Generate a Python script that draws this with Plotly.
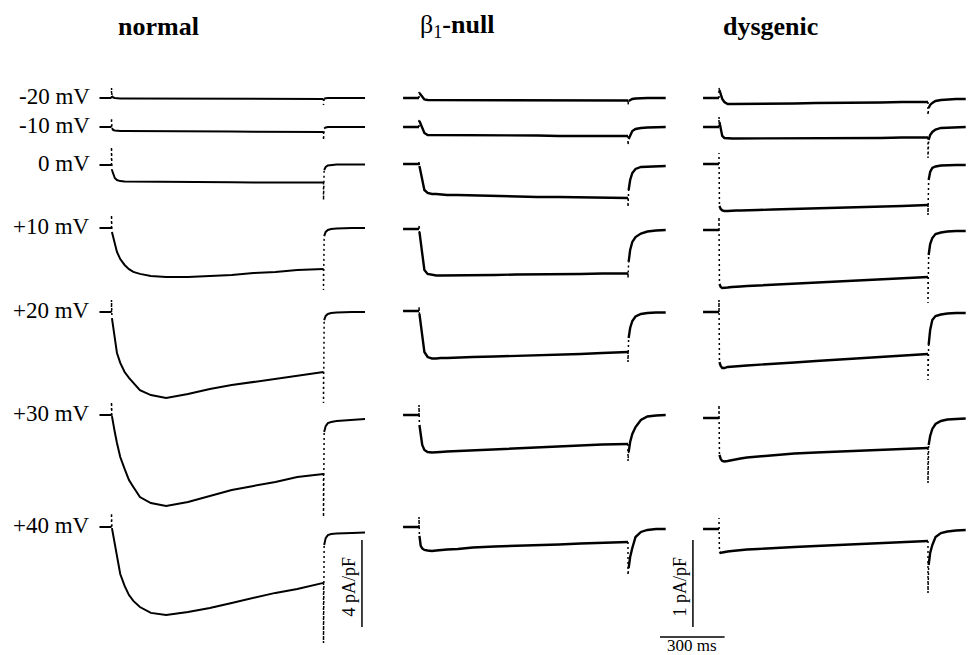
import plotly.graph_objects as go

W, H = 969, 655

# ---------------- data (currents in pA/pF, times in ms) ----------------
VOLTAGES = ["-20 mV", "-10 mV", "0 mV", "+10 mV", "+20 mV", "+30 mV", "+40 mV"]
GROUPS = ["<b>normal</b>", "β<sub>1</sub><b>-null</b>", "<b>dysgenic</b>"]

T_PRE_NORMAL = [-55, 0]
T_PRE = [-74, 0]
PRE_LEVEL = [0, 0]
T_BODY = [2, 8, 15, 25, 40, 60, 80, 100, 130, 180, 250, 350, 450, 550, 650, 750, 850, 970]
T_POST_NORMAL = [973, 980, 990, 1005, 1030, 1060, 1100, 1160]
T_POST = [973, 980, 990, 1005, 1030, 1060, 1100, 1145]

NORMAL_BODY = [
    [0.10, 0.02, 0.0, -0.02, -0.02, -0.02, -0.02, -0.02, -0.02, -0.02, -0.02, -0.03, -0.03, -0.03, -0.04, -0.04, -0.05, -0.05],
    [-0.05, -0.14, -0.16, -0.18, -0.18, -0.18, -0.18, -0.18, -0.20, -0.20, -0.20, -0.21, -0.21, -0.21, -0.22, -0.22, -0.23, -0.23],
    [-0.23, -0.46, -0.60, -0.69, -0.74, -0.76, -0.76, -0.78, -0.78, -0.78, -0.78, -0.78, -0.79, -0.79, -0.80, -0.80, -0.80, -0.80],
    [-0.18, -0.46, -0.78, -1.10, -1.43, -1.70, -1.89, -2.02, -2.11, -2.21, -2.25, -2.25, -2.21, -2.16, -2.07, -2.02, -1.93, -1.89],
    [-0.28, -0.69, -1.38, -1.89, -2.34, -2.76, -3.03, -3.26, -3.59, -3.82, -3.95, -3.77, -3.54, -3.36, -3.22, -3.08, -2.92, -2.76],
    [-0.05, -0.32, -0.78, -1.29, -1.93, -2.48, -2.99, -3.31, -3.77, -4.05, -4.18, -4.00, -3.72, -3.45, -3.26, -3.08, -2.85, -2.71],
    [-0.05, -0.37, -0.87, -1.43, -2.16, -2.71, -3.13, -3.40, -3.68, -3.95, -4.05, -3.91, -3.72, -3.49, -3.26, -3.03, -2.85, -2.57],
]
NORMAL_POST = [
    [-0.02, 0, 0, 0, 0, 0, 0, 0],
    [-0.07, -0.02, 0, 0, 0, 0, 0, 0],
    [-0.23, -0.09, -0.02, 0, 0.02, 0.02, 0.02, 0.02],
    [-0.37, -0.18, -0.09, -0.05, -0.02, 0, 0, 0],
    [-0.37, -0.18, -0.09, -0.05, -0.02, 0, 0, 0],
    [-0.78, -0.51, -0.37, -0.32, -0.28, -0.25, -0.23, -0.18],
    [-0.83, -0.51, -0.37, -0.32, -0.30, -0.28, -0.28, -0.25],
]
NORMAL_SPIKE = [0.46, 0.41, 0.83, 0.60, 0.55, 0.60, 0.64]
NORMAL_DIP = [-0.32, -0.60, -1.61, -2.85, -4.18, -4.69, -5.33]

BETA_BODY = [
    [0.057, 0.034, 0.006, -0.017, -0.023, -0.023, -0.023, -0.023, -0.023, -0.023, -0.023, -0.023, -0.023, -0.023, -0.023, -0.029, -0.029, -0.029],
    [0.069, 0.034, -0.023, -0.069, -0.092, -0.092, -0.098, -0.098, -0.098, -0.098, -0.098, -0.098, -0.098, -0.098, -0.103, -0.103, -0.103, -0.103],
    [-0.023, -0.092, -0.207, -0.299, -0.333, -0.345, -0.345, -0.351, -0.356, -0.356, -0.362, -0.368, -0.374, -0.379, -0.379, -0.385, -0.391, -0.391],
    [-0.034, -0.161, -0.322, -0.471, -0.517, -0.529, -0.534, -0.534, -0.534, -0.534, -0.529, -0.529, -0.523, -0.523, -0.517, -0.517, -0.511, -0.511],
    [-0.034, -0.149, -0.299, -0.471, -0.529, -0.546, -0.546, -0.540, -0.540, -0.534, -0.529, -0.523, -0.517, -0.506, -0.500, -0.494, -0.483, -0.471],
    [-0.115, -0.230, -0.345, -0.402, -0.425, -0.431, -0.431, -0.425, -0.420, -0.414, -0.408, -0.397, -0.385, -0.374, -0.362, -0.351, -0.339, -0.333],
    [-0.103, -0.218, -0.247, -0.264, -0.270, -0.276, -0.270, -0.264, -0.259, -0.253, -0.236, -0.224, -0.218, -0.207, -0.201, -0.190, -0.184, -0.172],
]
BETA_POST = [
    [-0.034, -0.023, -0.011, -0.006, 0, 0, 0, 0],
    [-0.138, -0.092, -0.046, -0.023, -0.011, -0.006, 0, 0],
    [-0.299, -0.184, -0.103, -0.057, -0.034, -0.029, -0.023, -0.023],
    [-0.379, -0.241, -0.149, -0.092, -0.052, -0.029, -0.017, -0.011],
    [-0.310, -0.195, -0.115, -0.063, -0.034, -0.023, -0.017, -0.017],
    [-0.425, -0.310, -0.218, -0.138, -0.057, -0.017, -0.006, 0],
    [-0.471, -0.345, -0.241, -0.115, -0.057, -0.034, -0.023, -0.023],
]
BETA_SPIKE = [0.069, 0.080, 0.034, 0.046, 0.050, 0.115, 0.115]
BETA_DIP = [-0.080, -0.207, -0.494, -0.563, -0.586, -0.529, -0.552]

DYS_BODY = [
    [0.092, 0.034, -0.011, -0.046, -0.069, -0.069, -0.069, -0.069, -0.069, -0.069, -0.063, -0.063, -0.057, -0.057, -0.052, -0.052, -0.046, -0.046],
    [0.057, -0.034, -0.103, -0.126, -0.132, -0.132, -0.132, -0.132, -0.132, -0.132, -0.132, -0.132, -0.132, -0.126, -0.126, -0.126, -0.121, -0.121],
    [-0.483, -0.517, -0.534, -0.540, -0.540, -0.534, -0.534, -0.534, -0.529, -0.529, -0.523, -0.517, -0.511, -0.506, -0.494, -0.489, -0.483, -0.471],
    [-0.621, -0.655, -0.667, -0.667, -0.661, -0.655, -0.655, -0.649, -0.644, -0.638, -0.632, -0.615, -0.603, -0.592, -0.580, -0.569, -0.557, -0.540],
    [-0.575, -0.621, -0.644, -0.644, -0.632, -0.626, -0.621, -0.621, -0.615, -0.609, -0.598, -0.580, -0.563, -0.546, -0.534, -0.517, -0.500, -0.483],
    [-0.425, -0.471, -0.494, -0.500, -0.494, -0.483, -0.471, -0.466, -0.454, -0.443, -0.425, -0.408, -0.397, -0.385, -0.374, -0.362, -0.356, -0.345],
    [-0.264, -0.276, -0.270, -0.264, -0.259, -0.253, -0.247, -0.241, -0.236, -0.230, -0.218, -0.207, -0.195, -0.184, -0.178, -0.167, -0.155, -0.138],
]
DYS_POST = [
    [-0.115, -0.080, -0.057, -0.034, -0.023, -0.017, -0.011, -0.011],
    [-0.149, -0.092, -0.057, -0.029, -0.011, -0.006, 0, 0],
    [-0.184, -0.092, -0.046, -0.029, -0.017, -0.011, -0.011, -0.011],
    [-0.287, -0.161, -0.092, -0.046, -0.029, -0.017, -0.011, -0.011],
    [-0.379, -0.207, -0.092, -0.046, -0.029, -0.017, -0.011, -0.011],
    [-0.310, -0.207, -0.126, -0.069, -0.034, -0.017, -0.011, -0.006],
    [-0.414, -0.276, -0.184, -0.092, -0.046, -0.029, -0.017, -0.011],
]
DYS_SPIKE = [0.115, 0.115, 0.126, 0.149, 0.138, 0.149, 0.126]
DYS_DIP = [-0.195, -0.356, -0.586, -0.839, -0.782, -0.747, -0.736]

# scale bars (values in data units)
SCALE_NORMAL_PA = 4
SCALE_SMALL_PA = 1
SCALE_TIME_MS = 300

# ---------------- layout constants (pixels) ----------------
COLS = [
    dict(body=NORMAL_BODY, post=NORMAL_POST, spike=NORMAL_SPIKE, dip=NORMAL_DIP,
         tpre=T_PRE_NORMAL, tpost=T_POST_NORMAL,
         onset=111.5, ppm=212 / 970, ppu=21.75, lw=2.0,
         base=[98, 127, 165, 228, 312, 415, 527],
         xrange=[-100, 1165], yrange=[-5.6, 1.0], title_x=158),
    dict(body=BETA_BODY, post=BETA_POST, spike=BETA_SPIKE, dip=BETA_DIP,
         tpre=T_PRE, tpost=T_POST,
         onset=419, ppm=209 / 970, ppu=87, lw=2.4,
         base=[98, 127, 164, 229, 311, 415, 527],
         xrange=[-80, 1150], yrange=[-1.0, 0.3], title_x=457),
    dict(body=DYS_BODY, post=DYS_POST, spike=DYS_SPIKE, dip=DYS_DIP,
         tpre=T_PRE, tpost=T_POST,
         onset=719, ppm=209 / 970, ppu=87, lw=2.4,
         base=[98, 127, 164, 230, 312, 418, 529],
         xrange=[-290, 1150], yrange=[-1.4, 0.3], title_x=770),
]

SERIF = "Liberation Serif, Times New Roman, serif"
fig = go.Figure()
axes = {}
annotations = []
shapes = []
dotted = dict(color="black", width=1.5, dash="2px,3px")

for c, col in enumerate(COLS):
    for r in range(len(VOLTAGES)):
        k = c * len(VOLTAGES) + r + 1
        sfx = "" if k == 1 else str(k)
        xa, ya = "x" + sfx, "y" + sfx
        xr, yr = col["xrange"], col["yrange"]
        on, ppm, ppu, base = col["onset"], col["ppm"], col["ppu"], col["base"][r]
        axes["xaxis" + sfx] = dict(range=xr, visible=False, fixedrange=True, anchor=ya,
                                   domain=[(on + xr[0] * ppm) / W, (on + xr[1] * ppm) / W])
        axes["yaxis" + sfx] = dict(range=yr, visible=False, fixedrange=True, anchor=xa,
                                   domain=[1 - (base - yr[0] * ppu) / H, 1 - (base - yr[1] * ppu) / H])
        solid = dict(color="black", width=col["lw"])
        body, post = col["body"][r], col["post"][r]
        common = dict(mode="lines", xaxis=xa, yaxis=ya, hoverinfo="skip", showlegend=False)
        fig.add_trace(go.Scatter(x=col["tpre"], y=PRE_LEVEL, line=solid, **common))
        fig.add_trace(go.Scatter(x=T_BODY, y=body, line=solid, **common))
        fig.add_trace(go.Scatter(x=col["tpost"], y=post, line=solid, **common))
        # capacitive / tail transients (sparse points in the recording)
        fig.add_trace(go.Scatter(x=[0, 0, T_BODY[0]], y=[PRE_LEVEL[-1], col["spike"][r], body[0]],
                                 line=dotted, **common))
        fig.add_trace(go.Scatter(x=[T_BODY[-1], T_BODY[-1], col["tpost"][0]],
                                 y=[body[-1], col["dip"][r], post[0]], line=dotted, **common))
        if c == 0:
            annotations.append(dict(xref=xa, yref=ya, x=-87, y=0.05, text=VOLTAGES[r],
                                    showarrow=False, xanchor="right", yanchor="middle",
                                    font=dict(family=SERIF, size=23, color="black")))
    annotations.append(dict(xref="paper", yref="paper", x=col["title_x"] / W, y=1 - 26 / H,
                            text=GROUPS[c], showarrow=False, xanchor="center", yanchor="middle",
                            font=dict(family=SERIF, size=26, color="black")))

# scale bars
xn, yn = "x7", "y7"       # normal, +40 mV
xd, yd = "x21", "y21"     # dysgenic, +40 mV
bar = dict(color="black", width=1.5)
shapes.append(dict(type="line", xref=xn, yref=yn, x0=1146, x1=1146, y0=-0.6, y1=-0.6 - SCALE_NORMAL_PA, line=bar))
annotations.append(dict(xref=xn, yref=yn, x=1085, y=-2.75, text=f"{SCALE_NORMAL_PA} pA/pF", textangle=-90,
                        showarrow=False, xanchor="center", yanchor="middle",
                        font=dict(family=SERIF, size=18, color="black")))
shapes.append(dict(type="line", xref=xd, yref=yd, x0=-121, x1=-121, y0=-0.126, y1=-0.126 - SCALE_SMALL_PA, line=bar))
annotations.append(dict(xref=xd, yref=yd, x=-181, y=-0.66, text=f"{SCALE_SMALL_PA} pA/pF", textangle=-90,
                        showarrow=False, xanchor="center", yanchor="middle",
                        font=dict(family=SERIF, size=18, color="black")))
shapes.append(dict(type="line", xref=xd, yref=yd, x0=-274, x1=-274 + SCALE_TIME_MS, y0=-1.241, y1=-1.241, line=bar))
annotations.append(dict(xref=xd, yref=yd, x=-124, y=-1.338, text=f"{SCALE_TIME_MS} ms",
                        showarrow=False, xanchor="center", yanchor="middle",
                        font=dict(family=SERIF, size=17, color="black")))

fig.update_layout(width=W, height=H, autosize=False, margin=dict(l=0, r=0, t=0, b=0),
                  paper_bgcolor="white", plot_bgcolor="rgba(0,0,0,0)",
                  annotations=annotations, shapes=shapes, **axes)
fig.write_html("out.html", config={"displayModeBar": False})
